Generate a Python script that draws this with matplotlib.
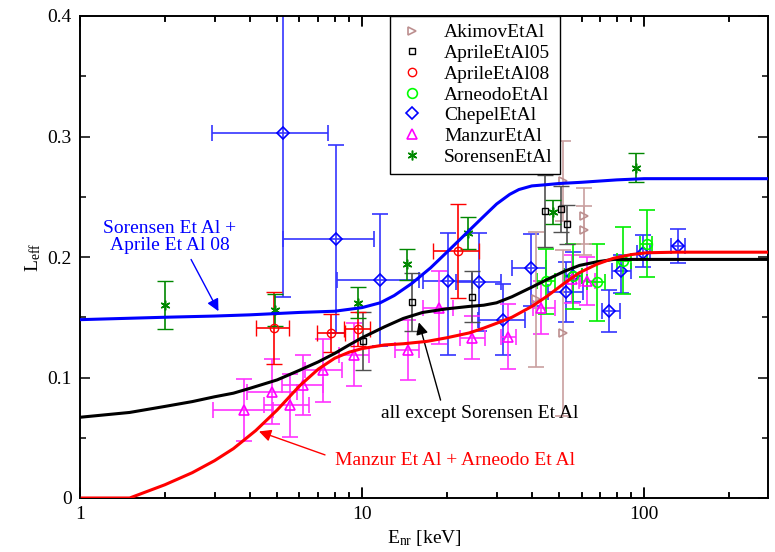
import numpy as np
import matplotlib
matplotlib.use("Agg")
import matplotlib.pyplot as plt
from matplotlib.lines import Line2D
from matplotlib import ticker

plt.rcParams['font.family'] = ['Liberation Serif', 'DejaVu Serif']
plt.rcParams['mathtext.fontset'] = 'custom'
plt.rcParams['mathtext.rm'] = 'Liberation Serif'
plt.rcParams['mathtext.it'] = 'Liberation Serif:italic'

# ---- fitted curves ----
blue_e = [1, 2, 3, 4, 6, 8, 10, 11.6, 13, 15, 17.5, 20.4, 23.5, 26.8, 30, 33.4, 36, 40, 45, 50, 60, 80, 100,
          275]
blue_l = [0.148, 0.150, 0.151, 0.152, 0.154, 0.155, 0.158, 0.162, 0.168, 0.178, 0.191, 0.206, 0.220, 0.233,
          0.244, 0.252, 0.256, 0.259, 0.260, 0.261, 0.262, 0.264, 0.265, 0.265]

black_e = [1, 1.5, 2, 2.5, 3, 3.5, 4, 5, 6, 7, 8, 9, 10, 12, 14, 16.4, 20, 24, 27, 30, 34, 40, 45, 52, 59,
           68, 78, 90, 275]
black_l = [0.067, 0.071, 0.076, 0.080, 0.084, 0.087, 0.091, 0.098, 0.106, 0.113, 0.120, 0.127, 0.133, 0.142,
           0.149, 0.154, 0.157, 0.159, 0.160, 0.162, 0.167, 0.175, 0.181, 0.188, 0.193, 0.196, 0.198, 0.198,
           0.198]

red_e = [1, 1.5, 2, 2.5, 3, 3.5, 4.2, 5, 6, 7, 8, 9, 10, 12, 14, 17, 20, 24, 27, 30, 34, 40, 45, 52, 59,
         68, 78, 90, 102, 130, 275]
red_l = [0, 0, 0.011, 0.021, 0.031, 0.041, 0.056, 0.073, 0.093, 0.107, 0.116, 0.121, 0.124, 0.127, 0.128,
         0.130, 0.133, 0.137, 0.141, 0.145, 0.150, 0.159, 0.167, 0.178, 0.187, 0.194, 0.199, 0.202, 0.2035,
         0.204, 0.204]

# ---- measurements ----
akimov_e = [41.3, 51.5, 51.5, 61, 61]
akimov_l = [0.165, 0.263, 0.137, 0.234, 0.222]
akimov_err = [0.056, 0.033, 0.069, 0.023, 0.020]

aprile05_e = [10.05, 15.0, 24.5, 44.5, 50.6, 53.4]
aprile05_l = [0.130, 0.163, 0.167, 0.238, 0.240, 0.227]
aprile05_err = [0.024, 0.024, 0.021, 0.030, 0.019, 0.016]

aprile08_e = [4.86, 7.76, 9.7, 21.9]
aprile08_l = [0.141, 0.137, 0.140, 0.205]
aprile08_xlo = [4.22, 6.9, 8.6, 17.9]
aprile08_xhi = [5.51, 8.7, 10.7, 25.9]
aprile08_err = [0.030, 0.016, 0.014, 0.039]

arneodo_e = [45, 56, 68, 84, 102]
arneodo_l = [0.180, 0.184, 0.179, 0.197, 0.211]
arneodo_xlo = [41.6, 52, 62.7, 80, 97]
arneodo_xhi = [48.4, 60, 72.9, 90, 107]
arneodo_err = [0.027, 0.027, 0.032, 0.028, 0.028]

chepel_e = [5.25, 8.1, 11.6, 20.2, 25.9, 31.7, 39.6, 52.7, 55.8, 75, 83, 99.5, 132]
chepel_l = [0.303, 0.215, 0.181, 0.180, 0.179, 0.148, 0.191, 0.171, 0.184, 0.155, 0.188, 0.203, 0.209]
chepel_xlo = [2.93, 5.25, 8.15, 16.5, 21.5, 25.8, 33.9, 45.7, 52, 71, 77, 94, 125]
chepel_xhi = [7.6, 11.0, 15.9, 24.5, 31.0, 37.7, 45.0, 60.9, 60, 82, 90, 105, 140]
chepel_ylo = [0.167, 0.137, 0.126, 0.119, 0.139, 0.119, 0.159, 0.146, 0.163, 0.138, 0.170, 0.192, 0.195]
chepel_yhi = [0.44, 0.293, 0.236, 0.220, 0.220, 0.178, 0.219, 0.196, 0.204, 0.173, 0.202, 0.218, 0.223]

manzur_e = [3.8, 4.8, 5.55, 6.2, 7.3, 9.4, 14.5, 18.8, 24.6, 33.0, 43.2, 55.6, 63]
manzur_l = [0.073, 0.088, 0.077, 0.094, 0.106, 0.119, 0.123, 0.158, 0.133, 0.134, 0.158, 0.182, 0.180]
manzur_xlo = [2.95, 3.9, 4.5, 5.2, 6.3, 8.3, 13.1, 16.5, 22.2, 31.2, 40.5, 51.7, 59]
manzur_xhi = [4.85, 5.9, 6.5, 7.3, 8.5, 10.6, 15.9, 21.0, 27.3, 35.1, 48.4, 59.2, 67]
manzur_err = [0.026, 0.027, 0.026, 0.025, 0.026, 0.026, 0.025, 0.030, 0.018, 0.027, 0.022, 0.020, 0.020]

sorensen_e = [2.0, 4.9, 9.7, 14.4, 23.8, 47.5, 93.6]
sorensen_l = [0.160, 0.156, 0.162, 0.194, 0.220, 0.237, 0.274]
sorensen_err = [0.020, 0.013, 0.013, 0.013, 0.013, 0.010, 0.012]

x_major = [1, 10, 100]
x_minor = [2, 3, 4, 5, 6, 7, 8, 9, 20, 30, 40, 50, 60, 70, 80, 90, 200]

fig = plt.figure(figsize=(7.75, 5.52), dpi=100)
ax = fig.add_axes([80 / 775, 54 / 552, 688 / 775, 482 / 552])

cap = 6
ebw = 1.2
fs = 14


def xerr_of(e, lo, hi):
    e = np.array(e)
    return [e - np.array(lo), np.array(hi) - e]


def yerr_of(l, lo, hi):
    l = np.array(l)
    return [l - np.array(lo), np.array(hi) - l]


# Chepel (blue diamonds)
ax.errorbar(chepel_e, chepel_l, xerr=xerr_of(chepel_e, chepel_xlo, chepel_xhi),
            yerr=yerr_of(chepel_l, chepel_ylo, chepel_yhi), fmt='D', ms=6, mfc='none', mec='#0000ff',
            ecolor='#3535ff', elinewidth=ebw, capsize=cap, mew=1.2)
# Manzur (magenta triangles)
ax.errorbar(manzur_e, manzur_l, xerr=xerr_of(manzur_e, manzur_xlo, manzur_xhi), yerr=manzur_err,
            fmt='^', ms=7, mfc='none', mec='#ff00ff', ecolor='#ff33ff', elinewidth=ebw, capsize=cap, mew=1.2)
# Arneodo (lime circles)
ax.errorbar(arneodo_e, arneodo_l, xerr=xerr_of(arneodo_e, arneodo_xlo, arneodo_xhi), yerr=arneodo_err,
            fmt='o', ms=7, mfc='none', mec='#00ff00', ecolor='#00ee00', elinewidth=ebw, capsize=cap, mew=1.2)
# Akimov (rosy brown)
ax.errorbar(akimov_e, akimov_l, yerr=akimov_err, fmt='>', ms=6, mfc='none', mec='#bc8f8f',
            ecolor='#c9a0a0', elinewidth=ebw, capsize=cap, mew=1.2)
# Aprile 05 (black squares)
ax.errorbar(aprile05_e, aprile05_l, yerr=aprile05_err, fmt='s', ms=5, mfc='none', mec='black',
            ecolor='#505050', elinewidth=ebw, capsize=cap, mew=1.0)
# Aprile 08 (red circles)
ax.errorbar(aprile08_e, aprile08_l, xerr=xerr_of(aprile08_e, aprile08_xlo, aprile08_xhi), yerr=aprile08_err,
            fmt='o', ms=6, mfc='none', mec='#ff0000', ecolor='#ff0000', elinewidth=ebw, capsize=cap, mew=1.0)
# Sorensen (green asterisks)
ax.errorbar(sorensen_e, sorensen_l, yerr=sorensen_err, fmt='none', ecolor='#008800',
            elinewidth=ebw, capsize=cap)
ax.plot(sorensen_e, sorensen_l, ls='none', marker=(6, 2, 0), ms=7, mec='#008800', mew=1.1)

# fitted curves
ax.plot(blue_e, blue_l, color='#0000ff', lw=2.2, zorder=5, solid_joinstyle='round')
ax.plot(black_e, black_l, color='black', lw=2.2, zorder=5, solid_joinstyle='round')
ax.plot(red_e, red_l, color='#ff0000', lw=2.2, zorder=5, solid_joinstyle='round')

# annotations
ax.text(2.08, 0.2166, 'Sorensen Et Al +\nAprile Et Al 08', color='#0000ff', fontsize=fs,
        ha='center', va='center', linespacing=0.95)
ax.annotate('', xy=(3.13, 0.153), xytext=(2.45, 0.200),
            arrowprops=dict(arrowstyle='-|>', color='#0000ff', lw=1, mutation_scale=18))
ax.text(26.2, 0.0705, 'all except Sorensen Et Al', color='black', fontsize=fs, ha='center', va='center')
ax.annotate('', xy=(15.8, 0.148), xytext=(19.1, 0.079),
            arrowprops=dict(arrowstyle='-|>', color='black', lw=1, mutation_scale=18))
ax.text(21.4, 0.0315, 'Manzur Et Al + Arneodo Et Al', color='#ff0000', fontsize=fs, ha='center', va='center')
ax.annotate('', xy=(4.22, 0.056), xytext=(7.55, 0.035),
            arrowprops=dict(arrowstyle='-|>', color='#ff0000', lw=1, mutation_scale=18))

ax.set_xscale('log')
ax.set_xlim(1, 275)
ax.set_ylim(0, 0.4)
ax.xaxis.set_major_locator(ticker.FixedLocator(x_major))
ax.xaxis.set_major_formatter(ticker.FixedFormatter(['1', '10', '100']))
ax.xaxis.set_minor_locator(ticker.FixedLocator(x_minor))
ax.xaxis.set_minor_formatter(ticker.NullFormatter())
ax.yaxis.set_major_locator(ticker.FixedLocator([0, 0.1, 0.2, 0.3, 0.4]))
ax.yaxis.set_major_formatter(ticker.FixedFormatter(['0', '0.1', '0.2', '0.3', '0.4']))
ax.yaxis.set_minor_locator(ticker.FixedLocator([0.05, 0.15, 0.25, 0.35]))
ax.tick_params(which='both', direction='in', top=True, right=True, labelsize=fs, width=1.1,
               color='black')
ax.tick_params(which='major', length=7.5, pad=6)
ax.tick_params(which='minor', length=4)
for s in ax.spines.values():
    s.set_linewidth(1.4)

# x tick marks drawn again along the bottom and top edges so they surely show
xt = ax.get_xaxis_transform()
for xv in x_major:
    ax.plot([xv, xv], [0, 0.021], transform=xt, color='black', lw=1.1, clip_on=False, zorder=6)
    ax.plot([xv, xv], [1, 0.979], transform=xt, color='black', lw=1.1, clip_on=False, zorder=6)
for xv in x_minor:
    ax.plot([xv, xv], [0, 0.011], transform=xt, color='black', lw=1.1, clip_on=False, zorder=6)
    ax.plot([xv, xv], [1, 0.989], transform=xt, color='black', lw=1.1, clip_on=False, zorder=6)

ax.set_xlabel(r'E$_{\mathrm{nr}}$ [keV]', fontsize=fs, labelpad=3)
ax.set_ylabel(r'L$_{\mathrm{eff}}$', fontsize=fs, labelpad=3)

handles = [
    Line2D([], [], ls='none', marker='>', ms=6, mfc='none', mec='#bc8f8f', mew=1.2),
    Line2D([], [], ls='none', marker='s', ms=5, mfc='none', mec='black', mew=1.0),
    Line2D([], [], ls='none', marker='o', ms=6, mfc='none', mec='#ff0000', mew=1.0),
    Line2D([], [], ls='none', marker='o', ms=7, mfc='none', mec='#00ff00', mew=1.2),
    Line2D([], [], ls='none', marker='D', ms=6, mfc='none', mec='#0000ff', mew=1.2),
    Line2D([], [], ls='none', marker='^', ms=7, mfc='none', mec='#ff00ff', mew=1.2),
    Line2D([], [], ls='none', marker=(6, 2, 0), ms=7, mec='#008800', mew=1.1),
]
labels = ['AkimovEtAl', 'AprileEtAl05', 'AprileEtAl08', 'ArneodoEtAl', 'ChepelEtAl', 'ManzurEtAl',
          'SorensenEtAl']
leg = ax.legend(handles, labels, loc='upper left', bbox_to_anchor=(0.45, 1.0), borderaxespad=0,
                fontsize=fs, frameon=True, fancybox=False, edgecolor='black', framealpha=1,
                labelspacing=0.16, handlelength=1.5, handletextpad=0.9, borderpad=0.4)
leg.get_frame().set_linewidth(1.0)
leg.set_zorder(10)

fig.savefig('out.png', dpi=100)
